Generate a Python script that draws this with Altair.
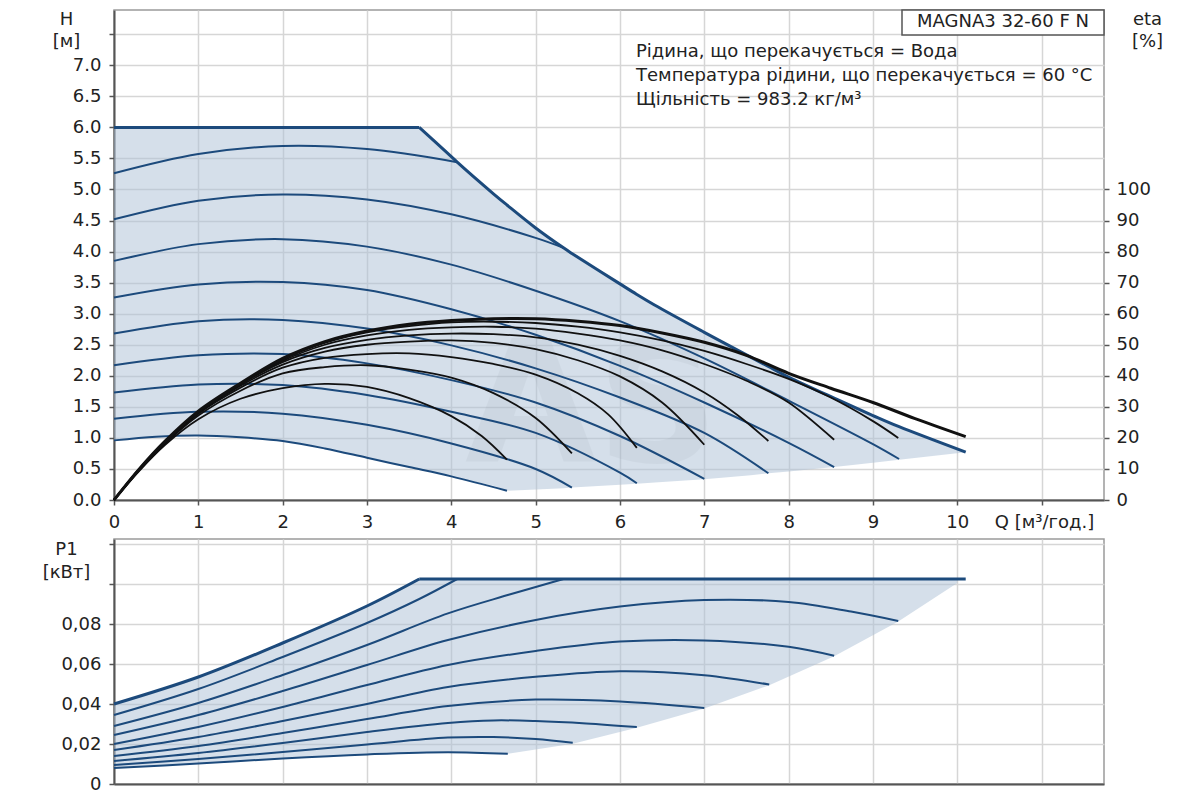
import altair as alt
import pandas as pd

FONT = "DejaVu Sans"
BLUE = "#1c4a7c"
FILL = "#abc0d6"
TXT = "#222222"
SMOOTH = "catmull-rom"

Q_MAX = 11.74
H_MAX = 7.89
ETA_MAX = 157.8
P_MAX = 0.1225

# ---------------- top panel: H [m] vs Q [m3/h] ----------------
# operating region (upper edge = max curve, lower edge = min curve + end points)
fill_q = [0, 0.5, 1, 1.5, 2, 2.5, 3, 3.5, 3.62, 4, 4.07, 4.5, 4.66, 5, 5.33, 5.43,
          6, 6.2, 6.41, 7, 7.55, 7.76, 8, 8.54, 9, 9.31, 10.1]
fill_top = [6, 6, 6, 6, 6, 6, 6, 6, 6.0, 5.53, 5.44, 4.93, 4.75, 4.38, 4.06, 3.97,
            3.48, 3.31, 3.14, 2.70, 2.30, 2.15, 1.98, 1.64, 1.36, 1.18, 0.77]
fill_bottom = [0.96, 1.02, 1.04, 1.01, 0.95, 0.83, 0.68, 0.53, 0.49, 0.38, 0.36, 0.23,
               0.15, 0.17, 0.19, 0.20, 0.245, 0.26, 0.28, 0.335, 0.40, 0.43, 0.46,
               0.53, 0.60, 0.65, 0.77]
CORNER = 8  # index of the knee of the max curve (Q = 3.62)

# constant-speed curves
s1_q = [0, 1, 2, 3, 4.07]
s1_h = [5.26, 5.57, 5.70, 5.65, 5.44]
s2_q = [0, 1, 2, 3, 4, 5, 5.33]
s2_h = [4.52, 4.82, 4.92, 4.84, 4.60, 4.22, 4.06]
s3_q = [0, 1, 2, 3, 4, 5, 6, 7, 8, 9, 9.31]
s3_h = [3.85, 4.12, 4.20, 4.08, 3.79, 3.37, 2.88, 2.28, 1.60, 0.90, 0.66]
s4_q = [0, 1, 2, 3, 4, 5, 6, 7, 8, 8.54]
s4_h = [3.26, 3.47, 3.51, 3.38, 3.07, 2.66, 2.16, 1.57, 0.92, 0.53]
s5_q = [0, 1, 2, 3, 4, 5, 6, 7, 7.76]
s5_h = [2.68, 2.88, 2.90, 2.76, 2.49, 2.12, 1.65, 1.08, 0.43]
s6_q = [0, 1, 2, 3, 4, 5, 6, 7]
s6_h = [2.17, 2.33, 2.35, 2.20, 1.93, 1.57, 1.03, 0.34]
s7_q = [0, 1, 2, 3, 4, 5, 6, 6.2]
s7_h = [1.73, 1.86, 1.85, 1.69, 1.42, 1.08, 0.44, 0.27]
s8_q = [0, 1, 2, 3, 4, 5, 5.43]
s8_h = [1.31, 1.42, 1.39, 1.21, 0.91, 0.50, 0.20]
s9_q = [0, 0.5, 1, 1.5, 2, 2.5, 3, 3.5, 4, 4.66]
s9_h = [0.96, 1.02, 1.04, 1.01, 0.95, 0.83, 0.68, 0.53, 0.38, 0.15]

# efficiency curves, eta [%]
ea_q = [0, 0.3, 0.6, 1, 1.5, 2, 2.5, 3, 3.5, 4, 4.36, 4.66]
ea_e = [0, 9.4, 17.6, 26.0, 32.6, 36.0, 37.4, 36.4, 32.8, 27.0, 20.6, 13.0]
eb_q = [0, 0.3, 0.6, 1, 1.5, 2, 2.5, 3, 3.5, 4, 4.5, 5, 5.43]
eb_e = [0, 9.6, 18.0, 27.2, 35.2, 40.8, 42.8, 43.4, 42.0, 39.4, 34.4, 26.4, 15.0]
ec_q = [0, 0.3, 0.6, 1, 1.5, 2, 2.5, 3, 3.5, 4, 4.5, 5, 5.5, 5.86, 6.2]
ec_e = [0, 9.8, 18.2, 27.8, 36.2, 42.6, 45.8, 47.0, 47.2, 46.0, 43.8, 40.4, 34.4, 27.6, 16.8]
ed_q = [0, 0.3, 0.6, 1, 1.5, 2, 2.5, 3, 3.5, 4, 4.5, 5, 5.5, 6, 6.5, 7]
ed_e = [0, 9.8, 18.4, 28.0, 36.8, 43.6, 47.8, 50.0, 51.0, 51.4, 50.6, 48.6, 45.0, 39.8, 31.4, 17.8]
ee_q = [0, 0.3, 0.6, 1, 1.5, 2, 2.5, 3, 3.5, 4, 4.5, 5, 5.5, 6, 6.5, 7, 7.4, 7.76]
ee_e = [0, 10, 18.6, 28.2, 37.2, 44.4, 49.0, 51.6, 53.0, 53.6, 53.4, 52.4, 50.0, 46.4,
        41.4, 34.6, 27.2, 19.0]
ef_q = [0, 0.3, 0.6, 1, 1.5, 2, 2.5, 3, 3.5, 4, 4.5, 5, 5.5, 6, 6.5, 7, 7.5, 8, 8.54]
ef_e = [0, 10, 18.6, 28.4, 37.4, 44.8, 50.0, 53.0, 54.8, 55.6, 55.8, 55.2, 53.6, 51.4,
        48.2, 43.8, 38.4, 31.4, 19.4]
eg_q = [0, 0.3, 0.6, 1, 1.5, 2, 2.5, 3, 3.5, 4, 4.5, 5, 5.5, 6, 6.5, 7, 7.5, 8, 8.5, 9, 9.3]
eg_e = [0, 10, 18.6, 28.4, 37.4, 45.2, 50.6, 54.0, 56.0, 57.2, 57.4, 57.0, 55.8, 54.0,
        51.4, 48.0, 43.8, 39.0, 33.0, 25.4, 20.0]
eh_q = [0, 0.3, 0.6, 1, 1.5, 2, 2.5, 3, 3.5, 4, 4.5, 5, 5.5, 6, 6.5, 7, 7.5, 8, 8.5, 9,
        9.5, 10.1]
eh_e = [0, 10, 18.8, 28.6, 37.6, 45.6, 51.0, 54.4, 56.6, 57.8, 58.4, 58.4, 57.6, 56.2,
        53.8, 50.8, 46.6, 40.8, 36.0, 31.4, 26.2, 20.4]

# ---------------- bottom panel: P1 [kW] vs Q ----------------
p_fill_q = [0, 1, 2, 3, 3.62, 3.96, 4.67, 5.44, 6.2, 7.0, 7.77, 8.54, 9.30, 10.0]
p_fill_top = [0.040, 0.0535, 0.0705, 0.089, 0.1025, 0.1025, 0.1025, 0.1025, 0.1025,
              0.1025, 0.1025, 0.1025, 0.1025, 0.1025]
p_fill_bottom = [0.008, 0.0102, 0.0128, 0.0148, 0.0155, 0.0159, 0.0151, 0.0201, 0.0281,
                 0.0377, 0.0494, 0.0639, 0.0812, 0.1005]

pmax_q = [0, 1, 2, 3, 3.62, 10.1]
pmax_p = [0.040, 0.0535, 0.0705, 0.089, 0.1025, 0.1025]
P_CORNER = 4  # index of the knee (Q = 3.62)
p1_q = [0, 1, 2, 3, 3.62, 4.07]
p1_p = [0.0345, 0.0475, 0.0635, 0.0805, 0.0925, 0.1025]
p2_q = [0, 1, 2, 3, 3.96, 4.68, 5.33]
p2_p = [0.029, 0.0405, 0.0545, 0.0695, 0.0853, 0.0946, 0.1025]
p3_q = [0, 1, 2, 3, 3.96, 5, 6, 7, 8, 8.74, 9.30]
p3_p = [0.0245, 0.0345, 0.0465, 0.0595, 0.072, 0.082, 0.0887, 0.092, 0.091, 0.0862, 0.0815]
p4_q = [0, 1, 2, 3, 3.96, 5, 6, 7, 8, 8.54]
p4_p = [0.020, 0.0285, 0.0385, 0.0495, 0.0595, 0.0665, 0.0712, 0.0718, 0.0686, 0.0641]
p5_q = [0, 1, 2, 3, 3.96, 5, 6, 7, 7.77]
p5_p = [0.017, 0.0235, 0.0315, 0.040, 0.0485, 0.0536, 0.0564, 0.0544, 0.0497]
p6_q = [0, 1, 2, 3, 3.96, 5, 6, 7.0]
p6_p = [0.014, 0.019, 0.0255, 0.0325, 0.039, 0.0422, 0.0413, 0.038]
p7_q = [0, 1, 2, 3, 3.96, 4.5, 5, 5.6, 6.2]
p7_p = [0.0115, 0.0155, 0.0205, 0.026, 0.0305, 0.0318, 0.0315, 0.0303, 0.0285]
p8_q = [0, 1, 2, 3, 3.96, 4.5, 5, 5.44]
p8_p = [0.0095, 0.0125, 0.016, 0.0198, 0.0232, 0.0235, 0.0225, 0.0206]
p9_q = [0, 1, 2, 3, 3.96, 4.67]
p9_p = [0.008, 0.0102, 0.0128, 0.0148, 0.0159, 0.0151]

x_ticks = list(range(0, 12))
h_ticks = [i * 0.5 for i in range(0, 16)]
eta_ticks = list(range(0, 101, 10))
p_ticks = [0, 0.02, 0.04, 0.06, 0.08, 0.10, 0.12]

info_lines = ["Рідина, що перекачується = Вода",
              "Температура рідини, що перекачується = 60 °C",
              "Щільність = 983.2 кг/м³"]
model_name = "MAGNA3 32-60 F N"


def long_df(curves, vname):
    rows = []
    for name, (qs, vs) in curves.items():
        for q, v in zip(qs, vs):
            rows.append({"curve": name, "q": q, vname: v})
    return pd.DataFrame(rows)


speed_df = long_df({"s1": (s1_q, s1_h), "s2": (s2_q, s2_h), "s3": (s3_q, s3_h),
                    "s4": (s4_q, s4_h), "s5": (s5_q, s5_h), "s6": (s6_q, s6_h),
                    "s7": (s7_q, s7_h), "s8": (s8_q, s8_h), "s9": (s9_q, s9_h)}, "h")
eta_df = long_df({"a": (ea_q, ea_e), "b": (eb_q, eb_e), "c": (ec_q, ec_e),
                  "d": (ed_q, ed_e), "e": (ee_q, ee_e), "f": (ef_q, ef_e),
                  "g": (eg_q, eg_e)}, "eta")
eta_top_df = pd.DataFrame({"q": eh_q, "eta": eh_e})
fill_df = pd.DataFrame({"q": fill_q, "top": fill_top, "bottom": fill_bottom})
max_flat_df = pd.DataFrame({"q": fill_q[:CORNER + 1], "h": fill_top[:CORNER + 1]})
max_fall_df = pd.DataFrame({"q": fill_q[CORNER:], "h": fill_top[CORNER:]})

pow_df = long_df({"p1": (p1_q, p1_p), "p2": (p2_q, p2_p), "p3": (p3_q, p3_p),
                  "p4": (p4_q, p4_p), "p5": (p5_q, p5_p), "p6": (p6_q, p6_p),
                  "p7": (p7_q, p7_p), "p8": (p8_q, p8_p), "p9": (p9_q, p9_p)}, "p")
pmax_rise_df = pd.DataFrame({"q": pmax_q[:P_CORNER + 1], "p": pmax_p[:P_CORNER + 1]})
pmax_flat_df = pd.DataFrame({"q": pmax_q[P_CORNER:], "p": pmax_p[P_CORNER:]})
pfill_df = pd.DataFrame({"q": p_fill_q, "top": p_fill_top, "bottom": p_fill_bottom})

one = alt.Data(values=[{"k": 1}])

# ---- shared encodings ----
x_scale = alt.Scale(domain=[0, Q_MAX], nice=False, zero=False)
x_top_axis = alt.Axis(values=x_ticks, labelExpr="datum.value > 10 ? '' : datum.label",
                      labelFlush=False,
                      title="Q [м³/год.]", titleAngle=0, titleAlign="center",
                      titleBaseline="top", titleX=930, titleY=13, labelPadding=8)
x_top = alt.X("q:Q", scale=x_scale, axis=x_top_axis)

h_scale = alt.Scale(domain=[0, H_MAX], nice=False, zero=False)
h_axis = alt.Axis(values=h_ticks,
                  labelExpr="datum.value > 7.2 ? '' : format(datum.value, '.1f')",
                  labelFlush=False,
                  title=["H", "[м]"], titleAngle=0, titleAlign="center",
                  titleBaseline="top", titleX=-48, titleY=0, titleLineHeight=22,
                  orient="left", labelPadding=8)

fill_layer = alt.Chart(fill_df).mark_area(color=FILL, opacity=0.5, interpolate="linear").encode(
    x=x_top,
    y=alt.Y("top:Q", scale=h_scale, axis=h_axis),
    y2="bottom:Q",
)
watermark = alt.Chart(one).mark_text(text="AS", font=FONT, fontSize=170, fontWeight="bold",
                                     color="#7d8690", opacity=0.08, align="center",
                                     baseline="middle").encode(
    x=alt.value(478), y=alt.value(401))
speed_layer = alt.Chart(speed_df).mark_line(color=BLUE, strokeWidth=2, interpolate=SMOOTH).encode(
    x=x_top,
    y=alt.Y("h:Q", scale=h_scale, axis=h_axis),
    detail="curve:N",
)
max_flat = alt.Chart(max_flat_df).mark_line(color=BLUE, strokeWidth=3, interpolate="linear").encode(
    x=x_top,
    y=alt.Y("h:Q", scale=h_scale, axis=h_axis),
)
max_fall = alt.Chart(max_fall_df).mark_line(color=BLUE, strokeWidth=3, interpolate=SMOOTH).encode(
    x=x_top,
    y=alt.Y("h:Q", scale=h_scale, axis=h_axis),
)
box = alt.Chart(one).mark_rect(fill="white", stroke="#555555", strokeWidth=1.5).encode(
    x=alt.value(788), x2=alt.value(990), y=alt.value(0), y2=alt.value(25))
box_text = alt.Chart(one).mark_text(text=model_name, font=FONT, fontSize=18, color=TXT,
                                    align="center", baseline="middle").encode(
    x=alt.value(889), y=alt.value(12))
info_layers = [
    alt.Chart(one).mark_text(text=t, font=FONT, fontSize=18, color=TXT, align="left",
                             baseline="middle").encode(x=alt.value(522), y=alt.value(yy))
    for t, yy in zip(info_lines, [42, 66, 90])
]

h_layer = alt.layer(fill_layer, watermark, speed_layer, max_flat, max_fall, box, box_text,
                    *info_layers)

eta_scale = alt.Scale(domain=[0, ETA_MAX], nice=False, zero=False)
eta_axis = alt.Axis(values=eta_ticks, orient="right", grid=False, domain=False,
                    title=["eta", "[%]"], titleAngle=0, titleAlign="center",
                    titleBaseline="top", titleX=43, titleY=0, titleLineHeight=22,
                    labelPadding=7, labelFlush=False)
eta_lines = alt.Chart(eta_df).mark_line(color="#111111", strokeWidth=1.8, interpolate=SMOOTH).encode(
    x=x_top,
    y=alt.Y("eta:Q", scale=eta_scale, axis=eta_axis),
    detail="curve:N",
)
eta_top_line = alt.Chart(eta_top_df).mark_line(color="#111111", strokeWidth=3, interpolate=SMOOTH).encode(
    x=x_top,
    y=alt.Y("eta:Q", scale=eta_scale, axis=eta_axis),
)
eta_layer = alt.layer(eta_lines, eta_top_line)

top = alt.layer(h_layer, eta_layer).resolve_scale(y="independent").properties(width=990, height=490)

# ---- bottom ----
x_bot = alt.X("q:Q", scale=x_scale,
              axis=alt.Axis(values=x_ticks, labels=False, ticks=False, title=None))
p_scale = alt.Scale(domain=[0, P_MAX], nice=False, zero=False)
p_axis = alt.Axis(values=p_ticks,
                  labelExpr="datum.value == 0 ? '0' : (datum.value > 0.09 ? '' : replace(format(datum.value, '.2f'), '.', ','))",
                  labelFlush=False,
                  title=["P1", "[кВт]"], titleAngle=0, titleAlign="center",
                  titleBaseline="top", titleX=-48, titleY=1, titleLineHeight=23,
                  labelPadding=8)

pfill = alt.Chart(pfill_df).mark_area(color=FILL, opacity=0.5, interpolate="linear").encode(
    x=x_bot, y=alt.Y("top:Q", scale=p_scale, axis=p_axis), y2="bottom:Q")
plines = alt.Chart(pow_df).mark_line(color=BLUE, strokeWidth=2, interpolate=SMOOTH).encode(
    x=x_bot, y=alt.Y("p:Q", scale=p_scale, axis=p_axis), detail="curve:N")
pmax_rise = alt.Chart(pmax_rise_df).mark_line(color=BLUE, strokeWidth=3, interpolate=SMOOTH).encode(
    x=x_bot, y=alt.Y("p:Q", scale=p_scale, axis=p_axis))
pmax_flat = alt.Chart(pmax_flat_df).mark_line(color=BLUE, strokeWidth=3, interpolate="linear").encode(
    x=x_bot, y=alt.Y("p:Q", scale=p_scale, axis=p_axis))

bottom = alt.layer(pfill, plines, pmax_rise, pmax_flat).properties(width=990, height=245)

chart = alt.vconcat(top, bottom, spacing=39, bounds="flush").properties(
    padding={"left": 33, "top": 0, "right": 5, "bottom": 5}
).configure_view(
    stroke="#9a9a9a", strokeWidth=1.5
).configure_axis(
    labelFont=FONT, labelFontSize=18, labelColor=TXT,
    titleFont=FONT, titleFontSize=18, titleFontWeight="normal", titleColor=TXT,
    gridColor="#d6d6d6", gridWidth=1.5,
    domainColor="#555555", domainWidth=2,
    tickColor="#555555", tickSize=5, tickWidth=1.5,
)

chart.save("out.html", embed_options={"renderer": "svg", "actions": False})
